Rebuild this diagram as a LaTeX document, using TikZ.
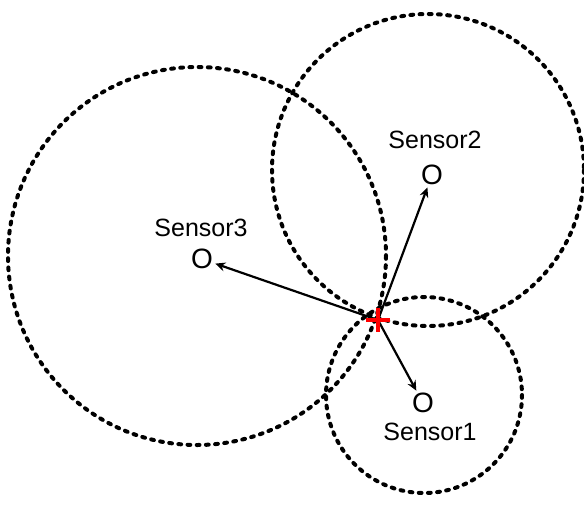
\documentclass[tikz,border=0pt]{standalone}
\usepackage{fontspec}
\setmainfont{Liberation Sans}
\usetikzlibrary{arrows.meta}

\begin{document}
\begin{tikzpicture}[x=.5pt, y=-.5pt,
  coverage/.style={line width=2pt, dash pattern=on 1.4pt off 3.2pt, line cap=round},
  sensor/.style={inner sep=1pt, font=\fontsize{14}{16}\selectfont},
  tag/.style={inner sep=1pt, font=\fontsize{12.5}{14}\selectfont},
  ray/.style={line width=1.1pt, -{Stealth[length=5pt,width=4.5pt]}}]
\useasboundingbox (0,0) rectangle (584,505);

% ranges of the three sensors
\draw[coverage] (197,256) circle[radius=189];
\draw[coverage] (428,170) circle[radius=156];
\draw[coverage] (424,395) circle[radius=98];

% sensors
\node[sensor] (s1) at (423,403) {O};
\node[sensor] (s2) at (432,175) {O};
\node[sensor] (s3) at (202,259) {O};
\node[tag] (l1) at (430,432) {Sensor1};
\node[tag] (l2) at (435,140) {Sensor2};
\node[tag] (l3) at (201,228) {Sensor3};

% estimated position
\node[minimum size=12pt, inner sep=0pt] (x) at (378,320) {};
\foreach \s in {s1,s2,s3} \draw[ray] (x.center) -- (\s);
\draw[red, line width=1.8pt] (x.west) -- (x.east) (x.north) -- (x.south);

\end{tikzpicture}
\end{document}
